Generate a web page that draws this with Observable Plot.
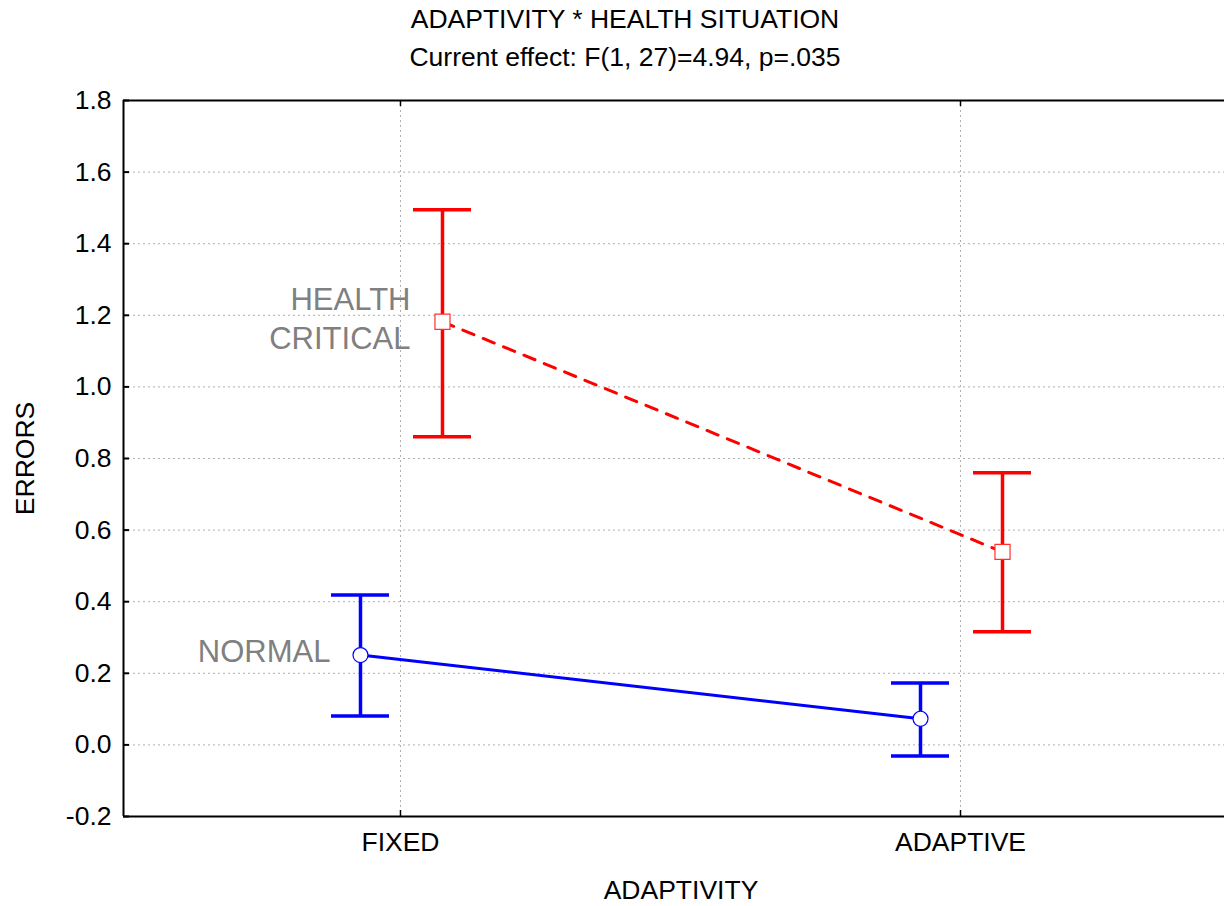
<!DOCTYPE html>
<html><head><meta charset="utf-8">
<script src="https://cdn.jsdelivr.net/npm/d3@7"></script>
<script src="https://cdn.jsdelivr.net/npm/@observablehq/plot@0.6"></script>
<style>body{margin:0;background:#fff} svg{display:block}</style>
</head><body><div id="chart"></div>
<script>
const categories = ["FIXED", "ADAPTIVE"];
const groups = ["NORMAL", "HEALTH CRITICAL"];
const normalMean = [0.251, 0.073];
const normalLow = [0.081, -0.031];
const normalHigh = [0.419, 0.173];
const criticalMean = [1.182, 0.539];
const criticalLow = [0.861, 0.316];
const criticalHigh = [1.495, 0.760];
const yTicks = [-0.2, 0, 0.2, 0.4, 0.6, 0.8, 1.0, 1.2, 1.4, 1.6, 1.8];
const title = "ADAPTIVITY * HEALTH SITUATION";
const subtitle = "Current effect: F(1, 27)=4.94, p=.035";
const xLabel = "ADAPTIVITY";
const yLabel = "ERRORS";

const W = 1224, H = 906, mL = 123, mR = 0, mT = 100, mB = 90;
const xDomain = [-0.4946, 1.4714];
const yDomain = [-0.2, 1.8];
const pxX = (W - mL - mR) / (xDomain[1] - xDomain[0]);
const pxY = (H - mT - mB) / (yDomain[1] - yDomain[0]);
const dodge = {"NORMAL": -40 / pxX, "HEALTH CRITICAL": 42 / pxX};
const capHalf = 29 / pxX;

const rows = [];
categories.forEach((c, i) => {
  rows.push({cat: c, group: groups[0], x: i + dodge[groups[0]], mean: normalMean[i], lo: normalLow[i], hi: normalHigh[i]});
  rows.push({cat: c, group: groups[1], x: i + dodge[groups[1]], mean: criticalMean[i], lo: criticalLow[i], hi: criticalHigh[i]});
});
const normal = rows.filter(d => d.group === "NORMAL");
const critical = rows.filter(d => d.group === "HEALTH CRITICAL");
const font = "'Liberation Sans', Arial, sans-serif";

const chart = Plot.plot({
  width: W, height: H,
  marginLeft: mL, marginRight: mR, marginTop: mT, marginBottom: mB,
  x: {domain: xDomain},
  y: {domain: yDomain},
  style: {fontFamily: font, fontSize: "26px", color: "black", background: "white"},
  marks: [
    Plot.gridY(yTicks.slice(1, -1), {stroke: "#b0b0b0", strokeOpacity: 1, strokeDasharray: "2,3"}),
    Plot.gridX([0, 1], {stroke: "#b0b0b0", strokeOpacity: 1, strokeDasharray: "2,3"}),
    Plot.ruleY(yDomain, {stroke: "black", strokeWidth: 2}),
    Plot.ruleX([xDomain[0]], {stroke: "black", strokeWidth: 2}),
    Plot.ruleY(yTicks, {x1: xDomain[0], x2: xDomain[0] + 6 / pxX, stroke: "black", strokeWidth: 2}),
    Plot.ruleX([0, 1], {y1: yDomain[1], y2: yDomain[1] - 6 / pxY, stroke: "black", strokeWidth: 1.5}),
    Plot.ruleX([0, 1], {y1: yDomain[0], y2: yDomain[0] + 6 / pxY, stroke: "black", strokeWidth: 1.5}),
    Plot.axisY({ticks: yTicks, tickSize: 0, tickPadding: 12, tickFormat: d => d.toFixed(1), label: null, fontSize: 26.5}),
    Plot.axisX({ticks: [0, 1], tickSize: 0, tickPadding: 16, tickFormat: i => categories[i], label: null, fontSize: 26.5}),
    // lines
    Plot.line(normal, {x: "x", y: "mean", stroke: "#0000ff", strokeWidth: 3}),
    Plot.line(critical, {x: "x", y: "mean", stroke: "#ff0000", strokeWidth: 3, strokeDasharray: "12,10"}),
    // error bars
    Plot.ruleX(normal, {x: "x", y1: "lo", y2: "hi", stroke: "#0000ff", strokeWidth: 3.5}),
    Plot.ruleY(normal, {y: "lo", x1: d => d.x - capHalf, x2: d => d.x + capHalf, stroke: "#0000ff", strokeWidth: 3.5}),
    Plot.ruleY(normal, {y: "hi", x1: d => d.x - capHalf, x2: d => d.x + capHalf, stroke: "#0000ff", strokeWidth: 3.5}),
    Plot.ruleX(critical, {x: "x", y1: "lo", y2: "hi", stroke: "#ff0000", strokeWidth: 3.5}),
    Plot.ruleY(critical, {y: "lo", x1: d => d.x - capHalf, x2: d => d.x + capHalf, stroke: "#ff0000", strokeWidth: 3.5}),
    Plot.ruleY(critical, {y: "hi", x1: d => d.x - capHalf, x2: d => d.x + capHalf, stroke: "#ff0000", strokeWidth: 3.5}),
    // markers
    Plot.dot(normal, {x: "x", y: "mean", r: 7.5, fill: "white", stroke: "#0000ff", strokeWidth: 1.2}),
    Plot.dot(critical, {x: "x", y: "mean", r: 8.5, symbol: "square", fill: "white", stroke: "#ff3030", strokeWidth: 1.2}),
    // series labels
    Plot.text([normal[0]], {x: "x", y: "mean", text: d => d.group, textAnchor: "end", dx: -30, dy: -3, fill: "#808080", fontSize: 31}),
    Plot.text([critical[0]], {x: "x", y: "mean", text: d => d.group.replace(" ", "\n"), textAnchor: "end", dx: -32, dy: -5, lineHeight: 1.26, fill: "#808080", fontSize: 31}),
    // titles
    Plot.text([title], {frameAnchor: "top", lineAnchor: "middle", dx: -49, dy: -81, fontSize: 26.5, fill: "black"}),
    Plot.text([subtitle], {frameAnchor: "top", lineAnchor: "middle", dx: -49, dy: -43, fontSize: 26.5, fill: "black"}),
    Plot.text([xLabel], {frameAnchor: "bottom", lineAnchor: "middle", dx: 7, dy: 74, fontSize: 26.5, fill: "black"}),
    Plot.text([yLabel], {frameAnchor: "left", textAnchor: "middle", lineAnchor: "middle", dx: -98, rotate: -90, fontSize: 26.5, fill: "black"})
  ]
});
document.getElementById("chart").appendChild(chart);
</script>
</body></html>
